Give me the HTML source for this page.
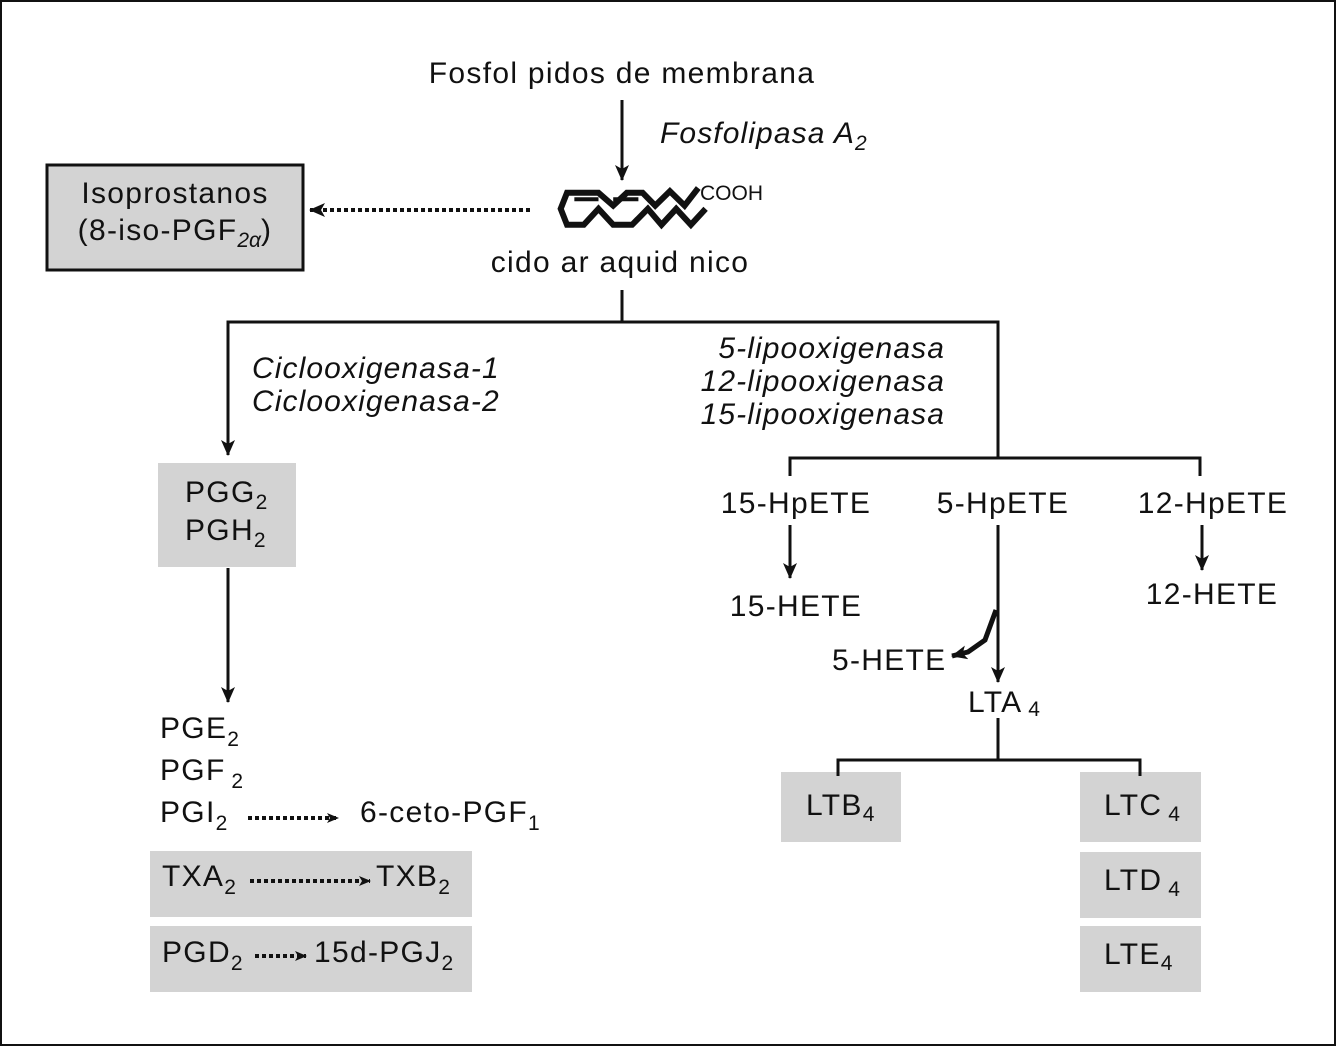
<!DOCTYPE html>
<html><head><meta charset="utf-8"><style>
html,body{margin:0;padding:0;background:#fff}
svg{display:block}
text{font-family:"Liberation Sans",Arial,sans-serif;font-size:30px;letter-spacing:1.3px;fill:#111}
.i{font-style:italic;font-size:30px;letter-spacing:1.1px}
.s{font-size:21px;letter-spacing:0}
.c{font-size:21px;letter-spacing:0}
</style></head><body>
<svg width="1337" height="1047" viewBox="0 0 1337 1047">
<defs>
<marker id="a" markerWidth="12" markerHeight="10" refX="11" refY="5" orient="auto" markerUnits="userSpaceOnUse"><path d="M0,0 L12,5 L0,10 L3,5Z" fill="#111"/></marker>
<marker id="b" markerWidth="16" markerHeight="14" refX="15" refY="7" orient="auto" markerUnits="userSpaceOnUse"><path d="M0,0 L16,7 L0,14 L4,7Z" fill="#111"/></marker>
</defs>
<rect x="1" y="1" width="1334" height="1044" fill="none" stroke="#111" stroke-width="2"/>
<rect x="47" y="165" width="256" height="105" fill="#d3d3d3" stroke="#111" stroke-width="3"/>
<rect x="158" y="463" width="138" height="104" fill="#d3d3d3"/>
<rect x="150" y="851" width="322" height="66" fill="#d3d3d3"/>
<rect x="150" y="926" width="322" height="66" fill="#d3d3d3"/>
<rect x="781" y="772" width="120" height="70" fill="#d3d3d3"/>
<rect x="1080" y="772" width="121" height="70" fill="#d3d3d3"/>
<rect x="1080" y="852" width="121" height="66" fill="#d3d3d3"/>
<rect x="1080" y="926" width="121" height="66" fill="#d3d3d3"/>
<g stroke="#111" stroke-width="3" fill="none">
<line x1="622" y1="100" x2="622" y2="180" marker-end="url(#b)"/>
<line x1="622" y1="290" x2="622" y2="322"/>
<polyline points="998,458 998,322 228,322 228,455" marker-end="url(#b)"/>
<line x1="998" y1="525" x2="998" y2="682" marker-end="url(#b)"/>
<line x1="228" y1="568" x2="228" y2="702" marker-end="url(#b)"/>
<polyline points="790,476 790,458 1200,458 1200,476"/>
<line x1="790" y1="525" x2="790" y2="578" marker-end="url(#b)"/>
<line x1="1202" y1="525" x2="1202" y2="570" marker-end="url(#b)"/>
<polyline points="996,610 985,640 968,652 952,656" stroke-width="5" marker-end="url(#b)"/>
<line x1="998" y1="718" x2="998" y2="760"/>
<polyline points="838,776 838,760 1140,760 1140,776"/>
</g>
<g stroke="#111" stroke-width="4" stroke-dasharray="4,3" fill="none">
<line x1="530" y1="210" x2="310" y2="210" marker-end="url(#b)"/>
<line x1="248" y1="818" x2="338" y2="818" marker-end="url(#a)"/>
<line x1="250" y1="881" x2="370" y2="881" marker-end="url(#a)"/>
<line x1="255" y1="956" x2="306" y2="956" marker-end="url(#a)"/>
</g>
<g stroke="#111" stroke-width="6" fill="none" transform="translate(0,-124) scale(1.05,1.6) translate(-28,0)">
<polyline vector-effect="non-scaling-stroke" points="693,195 680,206 666,197 652,206 640,198 625,198 612,206 598,198 582,198 568,198 562,208 568,218 584,218 598,208 612,218 630,218 645,208 658,218 672,208 686,218 700,208"/>
<line vector-effect="non-scaling-stroke" x1="575" y1="202" x2="598" y2="202" stroke-width="4"/>
<line vector-effect="non-scaling-stroke" x1="612" y1="202" x2="636" y2="202" stroke-width="4"/>
</g>
<text x="700" y="200" class="c">COOH</text>
<text x="622" y="83" text-anchor="middle">Fosfol pidos de membrana</text>
<text x="660" y="143" class="i">Fosfolipasa A<tspan class="s" dy="7">2</tspan></text>
<text x="620" y="272" text-anchor="middle">cido ar aquid nico</text>
<text x="175" y="203" text-anchor="middle">Isoprostanos</text>
<text x="175" y="240" text-anchor="middle">(8-iso-PGF<tspan class="s" font-style="italic" dy="7">2α</tspan><tspan dy="-7">)</tspan></text>
<text x="252" y="378" class="i">Ciclooxigenasa-1</text>
<text x="252" y="411" class="i">Ciclooxigenasa-2</text>
<text x="945" y="358" class="i" text-anchor="end">5-lipooxigenasa</text>
<text x="945" y="391" class="i" text-anchor="end">12-lipooxigenasa</text>
<text x="945" y="424" class="i" text-anchor="end">15-lipooxigenasa</text>
<text x="185" y="502">PGG<tspan class="s" dy="7">2</tspan></text>
<text x="185" y="540">PGH<tspan class="s" dy="7">2</tspan></text>
<text x="160" y="738">PGE<tspan class="s" dy="8">2</tspan></text>
<text x="160" y="780">PGF<tspan class="s" dy="8"> 2</tspan></text>
<text x="160" y="822">PGI<tspan class="s" dy="8">2</tspan></text>
<text x="360" y="822">6-ceto-PGF<tspan class="s" dy="8">1</tspan></text>
<text x="162" y="886">TXA<tspan class="s" dy="8">2</tspan></text>
<text x="376" y="886">TXB<tspan class="s" dy="8">2</tspan></text>
<text x="162" y="962">PGD<tspan class="s" dy="8">2</tspan></text>
<text x="314" y="962">15d-PGJ<tspan class="s" dy="8">2</tspan></text>
<text x="796" y="513" text-anchor="middle">15-HpETE</text>
<text x="1003" y="513" text-anchor="middle">5-HpETE</text>
<text x="1213" y="513" text-anchor="middle">12-HpETE</text>
<text x="796" y="616" text-anchor="middle">15-HETE</text>
<text x="1212" y="604" text-anchor="middle">12-HETE</text>
<text x="832" y="670">5-HETE</text>
<text x="968" y="712">LTA<tspan class="s" dy="4"> 4</tspan></text>
<text x="806" y="815">LTB<tspan class="s" dy="6">4</tspan></text>
<text x="1104" y="815">LTC<tspan class="s" dy="6"> 4</tspan></text>
<text x="1104" y="890">LTD<tspan class="s" dy="6"> 4</tspan></text>
<text x="1104" y="964">LTE<tspan class="s" dy="6">4</tspan></text>
</svg>
</body></html>
